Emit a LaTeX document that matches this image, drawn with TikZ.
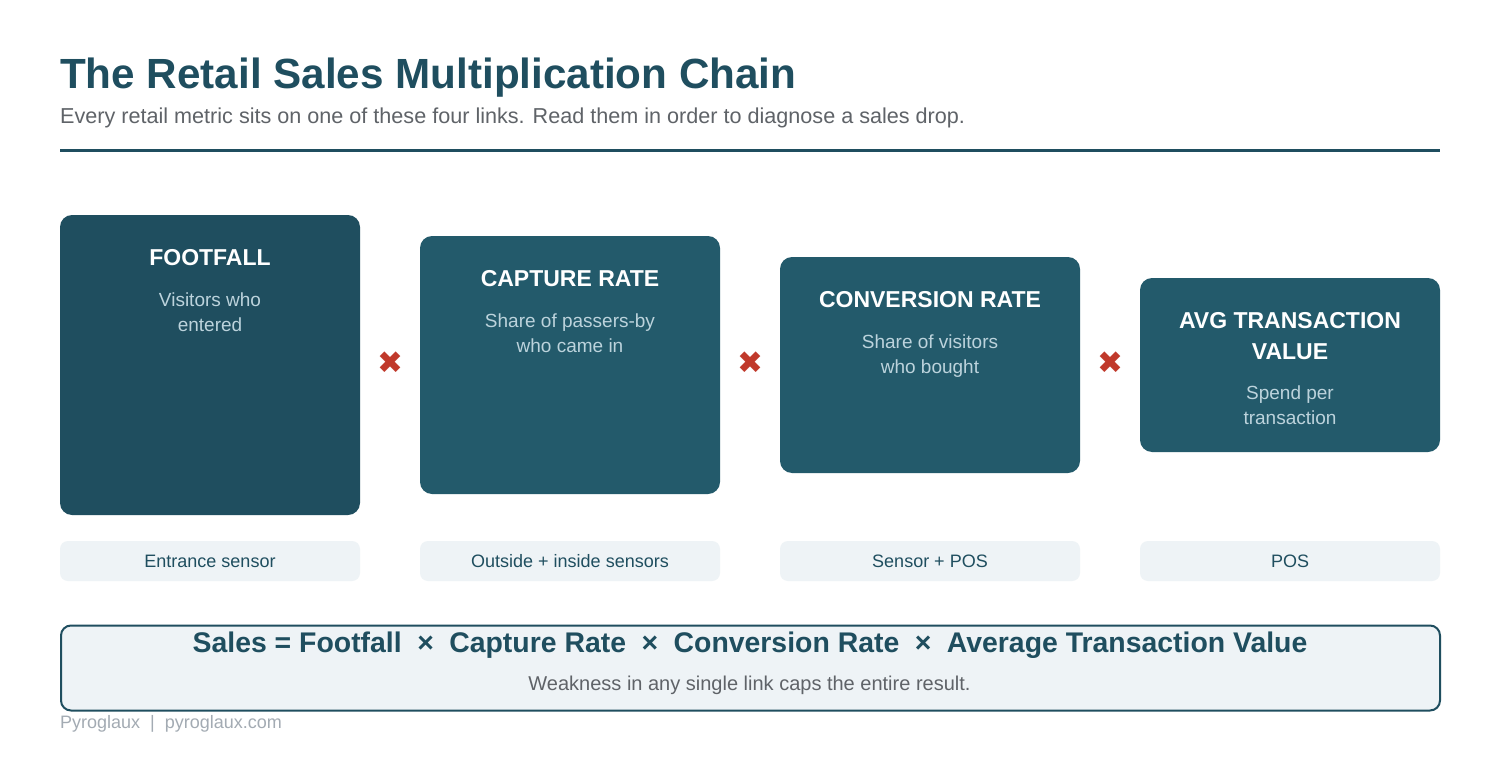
\documentclass[tikz,border=0pt]{standalone}
\usepackage{fontspec}
\setmainfont{Liberation Sans}
\newfontfamily\symfont{DejaVu Sans}
\usetikzlibrary{calc}
\definecolor{titlec}{HTML}{1F4E5F}
\definecolor{boxA}{HTML}{1F4E5F}
\definecolor{boxB}{HTML}{235A6B}
\definecolor{subc}{HTML}{BCD3DC}
\definecolor{softfill}{HTML}{EEF3F6}
\definecolor{markred}{HTML}{C0392B}
\definecolor{greyc}{HTML}{5F6368}
\definecolor{footc}{HTML}{A3ABB3}
\tikzset{
  metric/.style={rectangle, rounded corners=12, minimum width=300, inner sep=0, draw=none},
  mtitle/.style={anchor=base, inner sep=0, text=white, align=center,
    font=\fontsize{23}{31}\selectfont\bfseries},
  msub/.style={anchor=base, inner sep=0, text=subc, align=center,
    font=\fontsize{19}{25}\selectfont},
  sensor/.style={rectangle, rounded corners=8, minimum width=300, minimum height=40,
    inner sep=0, fill=softfill, text=titlec, font=\fontsize{18}{22}\selectfont},
  times/.style={inner sep=0, text=markred, font=\symfont\fontsize{31}{31}\selectfont},
}
\begin{document}
\begin{tikzpicture}[x=1pt,y=-1pt]
\useasboundingbox[fill=white] (0,0) rectangle (1500,760);
% header
\node[anchor=base west, inner sep=0, text=titlec, font=\fontsize{42.2}{48}\selectfont\bfseries]
  (title) at (60,88.5) {The Retail Sales Multiplication Chain};
\node[anchor=base west, inner sep=0, text=greyc, font=\fontsize{21.6}{26}\selectfont]
  (subtitle) at (60,123) {Every retail metric sits on one of these four links. Read them in order to diagnose a sales drop.};
\coordinate (rl) at (60,150.3);
\coordinate (rr) at (1440,150.3);
\draw[line width=3, titlec] (rl) -- (rr);
% metric boxes
\node[metric, fill=boxA, minimum height=300] (b1) at (210,365) {};
\node[metric, fill=boxB, minimum height=258] (b2) at (570,365) {};
\node[metric, fill=boxB, minimum height=216] (b3) at (930,365) {};
\node[metric, fill=boxB, minimum height=174] (b4) at (1290,365) {};
\node[mtitle] (t1) at ($(b1.north)+(0,51)$) {FOOTFALL};
\node[msub] (s1) at ($(b1.north)+(0,117)$) {Visitors who\\entered};
\node[mtitle] (t2) at ($(b2.north)+(0,51)$) {CAPTURE RATE};
\node[msub] (s2) at ($(b2.north)+(0,117)$) {Share of passers-by\\who came in};
\node[mtitle] (t3) at ($(b3.north)+(0,51)$) {CONVERSION RATE};
\node[msub] (s3) at ($(b3.north)+(0,117)$) {Share of visitors\\who bought};
\node[mtitle] (t4) at ($(b4.north)+(0,82)$) {AVG TRANSACTION\\VALUE};
\node[msub] (s4) at ($(b4.north)+(0,147)$) {Spend per\\transaction};
% multiplication marks
\node[times] (x1) at ($(b1.east)!0.5!(b2.west)+(0,-2)$) {✖};
\node[times] (x2) at ($(b2.east)!0.5!(b3.west)+(0,-2)$) {✖};
\node[times] (x3) at ($(b3.east)!0.5!(b4.west)+(0,-2)$) {✖};
% sensors
\node[sensor] (m1) at (210,561) {Entrance sensor};
\node[sensor] (m2) at (570,561) {Outside + inside sensors};
\node[sensor] (m3) at (930,561) {Sensor + POS};
\node[sensor] (m4) at (1290,561) {POS};
% formula box
\node[rectangle, rounded corners=10, draw=titlec, line width=2, fill=softfill,
  minimum width=1379, minimum height=85, inner sep=0] (formula) at (750.5,668) {};
\node[anchor=base, inner sep=0, text=titlec, font=\fontsize{28.4}{32}\selectfont\bfseries]
  (ftext) at (750,652.7) {Sales = Footfall\hspace{15.5pt}×\hspace{15.5pt}Capture Rate\hspace{15.5pt}×\hspace{15.5pt}Conversion Rate\hspace{15.5pt}×\hspace{15.5pt}Average Transaction Value};
\node[anchor=base, inner sep=0, text=greyc, font=\fontsize{20}{24}\selectfont]
  (fsub) at (749.5,690) {Weakness in any single link caps the entire result.};
% footer
\node[anchor=base west, inner sep=0, text=footc, font=\fontsize{18}{20}\selectfont]
  (footer) at (60,728) {Pyroglaux\hspace{10pt}|\hspace{10pt}pyroglaux.com};
\end{tikzpicture}
\end{document}
